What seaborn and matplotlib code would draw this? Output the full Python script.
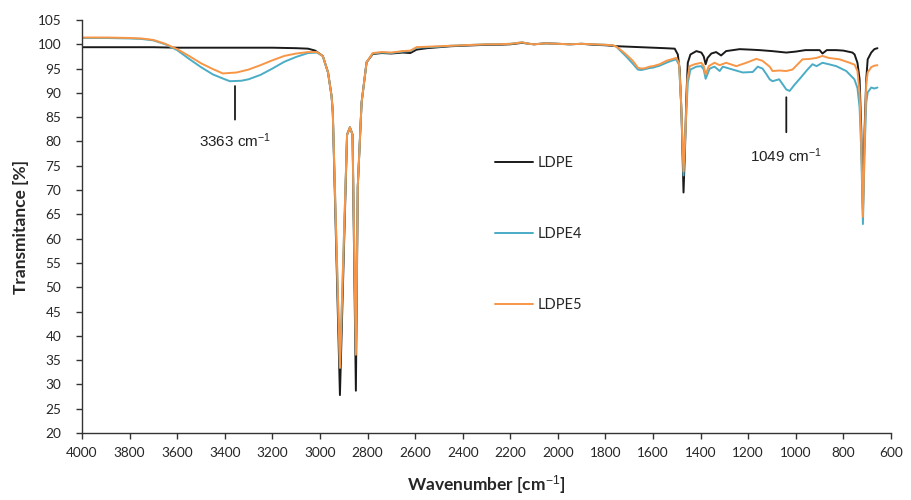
import numpy as np
import pandas as pd
import matplotlib
matplotlib.use("Agg")
import matplotlib.pyplot as plt
import seaborn as sns

# FTIR spectra
ldpe_wn = [4000, 3900, 3800, 3700, 3600, 3500, 3400, 3300, 3200, 3100,
           3050, 3020, 3000, 2988, 2966, 2951, 2946, 2916, 2886, 2874,
           2863, 2849, 2841, 2825, 2804, 2778, 2740, 2700, 2652, 2620,
           2594, 2550, 2500, 2450, 2400, 2350, 2300, 2250, 2200, 2150,
           2120, 2100, 2050, 2000, 1950, 1900, 1850, 1800, 1750, 1700,
           1650, 1600, 1550, 1509, 1496, 1488, 1480, 1472, 1466, 1460,
           1454, 1443, 1418, 1397, 1387, 1379, 1371, 1355, 1335, 1314,
           1293, 1236, 1190, 1152, 1100, 1040, 1000, 960, 900, 888,
           870, 830, 800, 762, 753, 741, 732, 725, 718, 711,
           704, 698, 683, 670, 657]
ldpe_t = [99.4, 99.4, 99.4, 99.4, 99.3, 99.3, 99.3, 99.3, 99.3, 99.2,
          99.1, 98.7, 98.0, 97.6, 94.2, 89.3, 86.0, 27.8, 81.4, 82.9,
          81.4, 28.7, 70.7, 88.0, 96.3, 98.0, 98.2, 98.1, 98.3, 98.2,
          98.9, 99.2, 99.4, 99.6, 99.7, 99.8, 99.9, 99.9, 100.0, 100.3,
          100.1, 100.0, 100.2, 100.1, 100.0, 100.1, 99.9, 99.8, 99.6, 99.5,
          99.4, 99.3, 99.2, 99.1, 97.9, 94.8, 85.0, 69.5, 78.0, 89.3,
          96.2, 97.9, 98.6, 98.3, 97.5, 95.9, 97.2, 98.1, 98.4, 97.7,
          98.6, 99.0, 98.9, 98.8, 98.6, 98.3, 98.5, 98.8, 98.8, 98.1,
          98.8, 98.8, 98.7, 98.3, 97.9, 96.2, 92.8, 82.5, 66.0, 82.5,
          92.8, 96.9, 98.3, 99.0, 99.2]

ldpe5_wn = [4000, 3900, 3800, 3750, 3700, 3650, 3600, 3550, 3500, 3450,
            3408, 3350, 3300, 3250, 3200, 3150, 3100, 3050, 3013, 2988,
            2966, 2951, 2946, 2916, 2886, 2874, 2863, 2849, 2841, 2825,
            2804, 2778, 2740, 2700, 2652, 2620, 2594, 2550, 2500, 2450,
            2400, 2350, 2300, 2250, 2200, 2150, 2120, 2100, 2050, 2000,
            1950, 1900, 1850, 1800, 1770, 1754, 1740, 1713, 1685, 1664,
            1650, 1632, 1615, 1600, 1572, 1544, 1523, 1503, 1491, 1482,
            1472, 1464, 1456, 1446, 1425, 1397, 1387, 1379, 1366, 1342,
            1320, 1293, 1250, 1208, 1166, 1140, 1110, 1098, 1070, 1040,
            1014, 972, 940, 913, 888, 862, 816, 774, 753, 741,
            732, 725, 718, 711, 704, 698, 683, 670, 657]
ldpe5_t = [101.4, 101.4, 101.3, 101.2, 100.9, 100.1, 99.0, 97.6, 96.1, 94.9,
           94.0, 94.2, 94.8, 95.7, 96.7, 97.6, 98.1, 98.4, 98.4, 97.6,
           94.2, 89.3, 86.0, 33.4, 81.4, 82.9, 81.4, 36.1, 70.7, 88.0,
           96.3, 98.2, 98.4, 98.3, 98.6, 98.7, 99.4, 99.5, 99.6, 99.7,
           99.8, 99.9, 100.0, 100.0, 100.1, 100.4, 100.1, 100.0, 100.2, 100.1,
           100.0, 100.1, 100.0, 99.9, 99.8, 99.5, 99.0, 97.9, 96.6, 95.2,
           95.0, 95.1, 95.4, 95.5, 95.9, 96.6, 96.9, 97.2, 96.2, 88.0,
           73.8, 82.0, 92.8, 95.5, 95.9, 96.2, 95.5, 93.8, 95.5, 96.2,
           95.7, 96.2, 95.5, 96.2, 97.0, 96.6, 95.4, 94.5, 94.6, 94.5,
           94.8, 96.9, 97.0, 97.2, 97.6, 97.2, 96.9, 96.2, 95.8, 94.5,
           90.0, 80.0, 64.5, 80.0, 92.0, 94.2, 95.3, 95.6, 95.7]

ldpe4_wn = [4000, 3900, 3800, 3750, 3700, 3650, 3600, 3550, 3500, 3450,
            3400, 3378, 3330, 3300, 3250, 3200, 3150, 3100, 3050, 3013,
            2988, 2966, 2951, 2946, 2916, 2886, 2874, 2863, 2849, 2841,
            2825, 2804, 2778, 2740, 2700, 2652, 2620, 2594, 2550, 2500,
            2450, 2400, 2350, 2300, 2250, 2200, 2150, 2120, 2100, 2050,
            2000, 1950, 1900, 1850, 1800, 1770, 1754, 1740, 1713, 1685,
            1664, 1650, 1632, 1615, 1600, 1572, 1544, 1523, 1503, 1491,
            1482, 1472, 1464, 1454, 1443, 1418, 1397, 1387, 1379, 1362,
            1342, 1320, 1307, 1265, 1223, 1181, 1160, 1140, 1123, 1110,
            1098, 1070, 1040, 1026, 1005, 980, 951, 930, 913, 888,
            862, 830, 788, 754, 741, 732, 725, 718, 711, 704,
            698, 683, 670, 657]
ldpe4_t = [101.3, 101.3, 101.2, 101.1, 100.8, 100.0, 98.8, 97.0, 95.3, 93.8,
           92.8, 92.4, 92.5, 92.8, 93.7, 95.0, 96.4, 97.4, 98.2, 98.3,
           97.6, 94.2, 89.3, 86.0, 33.5, 81.4, 82.9, 81.4, 36.5, 70.7,
           88.0, 96.3, 98.1, 98.3, 98.2, 98.5, 98.6, 99.3, 99.4, 99.5,
           99.7, 99.8, 99.9, 100.0, 100.0, 100.1, 100.4, 100.1, 100.0, 100.2,
           100.1, 100.0, 100.1, 100.0, 99.9, 99.8, 99.5, 98.8, 97.5, 96.0,
           94.8, 94.7, 94.9, 95.1, 95.2, 95.6, 96.2, 96.6, 96.9, 95.8,
           88.0, 73.0, 82.0, 92.1, 94.8, 95.4, 95.5, 94.8, 92.9, 95.0,
           95.4, 94.5, 95.4, 94.8, 94.2, 94.3, 95.4, 95.0, 93.8, 92.8,
           92.4, 92.8, 90.7, 90.4, 91.7, 93.1, 94.8, 95.9, 95.5, 96.2,
           95.9, 95.5, 94.5, 92.8, 91.0, 87.0, 78.0, 63.0, 78.0, 88.0,
           90.1, 91.1, 90.9, 91.1]

samples = ["LDPE", "LDPE4", "LDPE5"]
colors = ["#1a1a1a", "#4bacc6", "#f79646"]

# band annotations: label, wavenumber, leader top, leader bottom, text y
ann_labels = ["3363 cm$^{-1}$", "1049 cm$^{-1}$"]
ann_wn = [3357, 1040]
ann_top = [91.4, 89.1]
ann_bottom = [84.5, 81.9]
ann_text_y = [80.1, 77.1]

frames = []
for name, wn, t in zip(samples, [ldpe_wn, ldpe4_wn, ldpe5_wn], [ldpe_t, ldpe4_t, ldpe5_t]):
    frames.append(pd.DataFrame({"wavenumber": wn, "transmittance": t, "sample": name}))
df = pd.concat(frames, ignore_index=True)

sns.set_style("ticks")
plt.rcParams["font.family"] = ["Lato", "DejaVu Sans"]
plt.rcParams["mathtext.fontset"] = "custom"
plt.rcParams["mathtext.rm"] = "Liberation Sans"
plt.rcParams["mathtext.it"] = "Liberation Sans"

fig = plt.figure(figsize=(9.11, 5.0), dpi=100)
ax = fig.add_axes([82 / 911, 67 / 500, 809 / 911, 413 / 500])

sns.lineplot(data=df, x="wavenumber", y="transmittance", hue="sample",
             hue_order=samples, palette=colors, estimator=None, sort=False,
             lw=1.4, ax=ax)

ax.set_xlim(4000, 600)
ax.set_ylim(20, 105)
ax.set_xticks(np.arange(4000, 599, -200))
ax.set_yticks(np.arange(20, 106, 5))
ax.tick_params(axis="both", labelsize=9.8, length=4, width=1, color="#333333")
ax.tick_params(axis="y", pad=11)
ax.tick_params(axis="x", pad=6)
sns.despine(ax=ax)
for s in ["left", "bottom"]:
    ax.spines[s].set_color("#333333")
    ax.spines[s].set_linewidth(1)

ax.set_xlabel("Wavenumber [cm$^{-1}$]", fontsize=12.5, fontweight="bold", labelpad=10)
ax.set_ylabel("Transmitance [%]", fontsize=12.5, fontweight="bold", labelpad=6)

for lab, wn, top, bot, ty in zip(ann_labels, ann_wn, ann_top, ann_bottom, ann_text_y):
    ax.annotate("", xy=(wn, top), xytext=(wn, bot),
                arrowprops=dict(arrowstyle="-", color="#1a1a1a", lw=1.3, shrinkA=0, shrinkB=0))
    ax.text(wn, ty, lab, ha="center", va="center", fontsize=11,
            family=["Liberation Sans", "DejaVu Sans"], color="#222222")

sns.move_legend(ax, "center left", bbox_to_anchor=(0.5105, 0.4818), frameon=False,
                title="", fontsize=10.5, handlelength=2.6, handletextpad=0.35,
                labelspacing=3.9, borderpad=0, borderaxespad=0)

fig.savefig("out.png", dpi=100)
